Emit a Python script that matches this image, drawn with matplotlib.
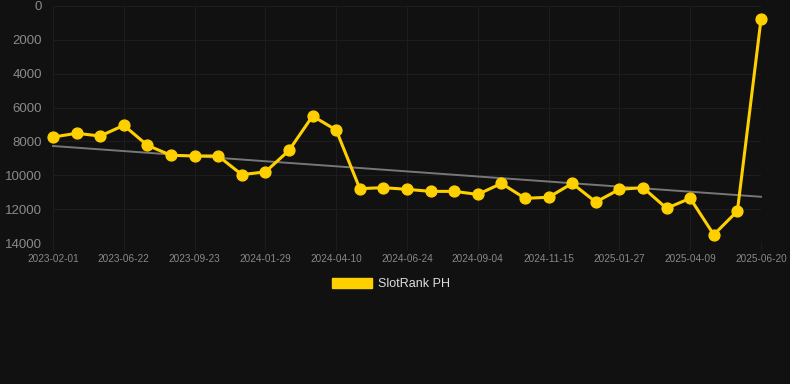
import numpy as np
import matplotlib.pyplot as plt
from matplotlib.patches import Patch

plt.rcParams['font.family'] = ['Liberation Sans', 'DejaVu Sans']

dates = ['2023-02-01', '', '', '2023-06-22', '', '', '2023-09-23', '', '',
         '2024-01-29', '', '', '2024-04-10', '', '', '2024-06-24', '', '',
         '2024-09-04', '', '', '2024-11-15', '', '', '2025-01-27', '', '',
         '2025-04-09', '', '', '2025-06-20']
rank = [7740, 7520, 7680, 7050, 8230, 8820, 8860, 8860, 9960, 9800,
        8530, 6500, 7330, 10790, 10730, 10830, 10950, 10950, 11130, 10480,
        11360, 11300, 10480, 11580, 10830, 10730, 11950, 11360, 13510, 12110,
        790]
trend_ends = [8270, 11270]
yticks = [0, 2000, 4000, 6000, 8000, 10000, 12000, 14000]

bg = '#111111'
gold = '#FFD000'

fig = plt.figure(figsize=(7.9, 3.84), dpi=100, facecolor=bg)
ax = fig.add_axes([53 / 790, 1 - 243 / 384, (761 - 53) / 790, 237 / 384])
ax.set_facecolor(bg)

x = np.arange(len(rank))
ax.plot([x[0], x[-1]], trend_ends, color='#777777', lw=1.4, zorder=2)
ax.plot(x, rank, color=gold, lw=2.2, marker='o', ms=7.8, zorder=3)

ax.set_xlim(0, len(rank) - 1)
ax.set_ylim(14000, 0)
ax.set_yticks(yticks)
ax.set_yticklabels([str(v) for v in yticks])
tick_idx = [i for i, d in enumerate(dates) if d]
ax.set_xticks(tick_idx)
ax.set_xticklabels([dates[i] for i in tick_idx])

ax.grid(True, color='#1d1d1d', lw=0.8)
for s in ax.spines.values():
    s.set_visible(False)
ax.tick_params(axis='y', length=0, labelsize=9.5, labelcolor='#8a8a8a', pad=8)
ax.tick_params(axis='x', length=5, color='#1d1d1d', labelsize=7.2,
               labelcolor='#888888', pad=3)
for line in ax.get_lines():
    line.set_clip_on(False)

fig.legend(handles=[Patch(facecolor=gold, edgecolor=gold)], labels=['SlotRank PH'],
           loc='center', bbox_to_anchor=(391 / 790, 1 - 284 / 384), frameon=False,
           fontsize=9, labelcolor='#dddddd', handlelength=3.2, handleheight=0.9,
           handletextpad=0.5)

fig.savefig('out.png', dpi=100, facecolor=bg)
